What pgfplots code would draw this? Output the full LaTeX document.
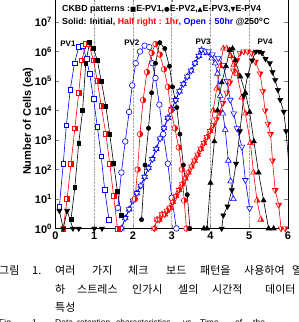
\documentclass[border=0pt]{standalone}
\usepackage{fontspec}
\setmainfont{Liberation Sans}
\newfontfamily\kr{Noto Sans CJK KR}
\newfontfamily\sym{DejaVu Sans}
\usepackage{pgfplots}
\pgfplotsset{compat=1.18}
% half-right filled marks (red)
\pgfdeclareplotmark{hsq}{%
 \pgfpathrectangle{\pgfqpoint{-\pgfplotmarksize}{-\pgfplotmarksize}}{\pgfqpoint{2\pgfplotmarksize}{2\pgfplotmarksize}}%
 \pgfsetfillcolor{white}\pgfusepathqfill
 \pgfpathrectangle{\pgfqpoint{0pt}{-\pgfplotmarksize}}{\pgfqpoint{\pgfplotmarksize}{2\pgfplotmarksize}}%
 \pgfsetfillcolor{red}\pgfusepathqfill
 \pgfpathrectangle{\pgfqpoint{-\pgfplotmarksize}{-\pgfplotmarksize}}{\pgfqpoint{2\pgfplotmarksize}{2\pgfplotmarksize}}%
 \pgfusepathqstroke}
\pgfdeclareplotmark{hci}{%
 \pgfpathcircle{\pgfpointorigin}{\pgfplotmarksize}%
 \pgfsetfillcolor{white}\pgfusepathqfill
 \pgfpathmoveto{\pgfqpoint{0pt}{-\pgfplotmarksize}}\pgfpatharc{-90}{90}{\pgfplotmarksize}\pgfpathclose
 \pgfsetfillcolor{red}\pgfusepathqfill
 \pgfpathcircle{\pgfpointorigin}{\pgfplotmarksize}\pgfusepathqstroke}
\pgfdeclareplotmark{htu}{%
 \pgfpathmoveto{\pgfqpointpolar{90}{\pgfplotmarksize}}\pgfpathlineto{\pgfqpointpolar{-30}{\pgfplotmarksize}}\pgfpathlineto{\pgfqpointpolar{210}{\pgfplotmarksize}}\pgfpathclose
 \pgfsetfillcolor{white}\pgfusepathqfill
 \pgfpathmoveto{\pgfqpointpolar{90}{\pgfplotmarksize}}\pgfpathlineto{\pgfqpointpolar{-30}{\pgfplotmarksize}}\pgfpathlineto{\pgfqpoint{0pt}{-0.5\pgfplotmarksize}}\pgfpathclose
 \pgfsetfillcolor{red}\pgfusepathqfill
 \pgfpathmoveto{\pgfqpointpolar{90}{\pgfplotmarksize}}\pgfpathlineto{\pgfqpointpolar{-30}{\pgfplotmarksize}}\pgfpathlineto{\pgfqpointpolar{210}{\pgfplotmarksize}}\pgfpathclose
 \pgfusepathqstroke}
\pgfdeclareplotmark{htd}{%
 \pgfpathmoveto{\pgfqpointpolar{-90}{\pgfplotmarksize}}\pgfpathlineto{\pgfqpointpolar{30}{\pgfplotmarksize}}\pgfpathlineto{\pgfqpointpolar{150}{\pgfplotmarksize}}\pgfpathclose
 \pgfsetfillcolor{white}\pgfusepathqfill
 \pgfpathmoveto{\pgfqpointpolar{-90}{\pgfplotmarksize}}\pgfpathlineto{\pgfqpointpolar{30}{\pgfplotmarksize}}\pgfpathlineto{\pgfqpoint{0pt}{0.5\pgfplotmarksize}}\pgfpathclose
 \pgfsetfillcolor{red}\pgfusepathqfill
 \pgfpathmoveto{\pgfqpointpolar{-90}{\pgfplotmarksize}}\pgfpathlineto{\pgfqpointpolar{30}{\pgfplotmarksize}}\pgfpathlineto{\pgfqpointpolar{150}{\pgfplotmarksize}}\pgfpathclose
 \pgfusepathqstroke}
\begin{document}
\begin{tikzpicture}[x=1pt,y=1pt]
\useasboundingbox (0,0) rectangle (299,322);
\begin{axis}[at={(55.5pt,93.5pt)}, anchor=south west, scale only axis,
 width=232.5pt, height=230.1pt,
 xmin=0, xmax=6, ymode=log, ymin=1, ymax=6.31e7,
 xtick={0,1,2,3,4,5,6}, xticklabels={0,1,2,3,4,5,6},
 ytick={1,10,100,1000,1e4,1e5,1e6,1e7},
 yticklabels={10\textsuperscript{0},10\textsuperscript{1},10\textsuperscript{2},10\textsuperscript{3},10\textsuperscript{4},10\textsuperscript{5},10\textsuperscript{6},10\textsuperscript{7}},
 tick label style={font=\bfseries\fontsize{11}{13}\selectfont},
 tick align=inside, yminorticks=false, xminorticks=false,
 major tick length=4pt,
 xmajorgrids, major grid style={gray!70, densely dotted, line width=0.5pt},
 axis line style={line width=0.8pt},
 ylabel={Number of Cells (ea)},
 ylabel style={font=\bfseries\fontsize{11}{13}\selectfont, at={(axis description cs:-0.118,0.465)}, anchor=center},
 every axis plot/.append style={line width=0.6pt},
]
% ---------- blue : open, 50hr ----------
\addplot[color=blue, mark=square*, mark size=2.4pt, mark options={fill=white}] coordinates {
(0.10,5.6)(0.20,158)(0.28,3.16e3)(0.38,5.0e4)(0.49,4.0e5)(0.60,1.41e6)(0.70,1.58e6)(0.80,5.6e5)(0.88,1.78e5)(0.98,2.51e4)(1.08,2.8e3)(1.18,282)(1.27,20)(1.38,2)};
\addplot[color=blue, mark=*, mark size=2.8pt, mark options={fill=white}] coordinates {
(1.61,5)(1.70,79)(1.80,891)(1.90,8.9e3)(1.98,7.1e4)(2.07,4.0e5)(2.18,1.0e6)(2.30,1.58e6)(2.42,1.41e6)(2.50,4.0e5)(2.58,1.26e5)(2.68,1.58e4)(2.78,1.58e3)(2.90,158)(3.00,11)(3.12,1)};
\addplot[color=blue, mark=triangle*, mark size=3.3pt, mark options={fill=white}] coordinates {
(1.70,1)(1.80,2.24)(1.90,4.47)(2.00,8.9)(2.10,15.8)(2.20,28.2)(2.30,56)(2.40,112)(2.50,224)(2.60,501)(2.70,1.12e3)(2.80,2.51e3)(2.90,5.6e3)(3.00,1.12e4)(3.10,2.24e4)(3.20,4.47e4)(3.30,7.9e4)(3.40,1.41e5)(3.50,2.24e5)(3.60,4.0e5)(3.70,7.1e5)(3.77,1.12e6)
(3.90,8.9e5)(4.03,5.9e5)(4.12,4.0e5)(4.18,1.78e5)(4.25,3.16e4)(4.32,7.9e3)(4.38,2.24e3)(4.46,200)(4.52,40)(4.59,10)};
\addplot[color=blue, mark=triangle*, mark size=3.3pt, mark options={fill=white, rotate=180}] coordinates {
(1.70,1)(1.80,2.24)(1.90,4.47)(2.00,8.9)(2.10,15.8)(2.20,28.2)(2.30,56)(2.40,112)(2.50,224)(2.60,501)(2.70,1.12e3)(2.80,2.51e3)(2.90,5.6e3)(3.00,1.12e4)(3.10,2.24e4)(3.20,4.47e4)(3.30,7.9e4)(3.40,1.41e5)(3.50,2.24e5)(3.60,4.0e5)(3.70,7.1e5)(3.77,1.12e6)
(3.87,1e6)(3.95,1e6)(4.05,7.9e5)(4.20,5.9e5)(4.33,3.47e5)(4.42,1e5)(4.51,2.29e4)(4.60,7.9e3)(4.68,2.51e3)(4.81,589)(4.90,43.7)(5.01,4.8)};
% ---------- red : half right, 1hr ----------
\addplot[color=red, mark=hsq, mark size=2.4pt] coordinates {
(0.20,1)(0.30,10)(0.40,158)(0.50,2.51e3)(0.60,3.98e4)(0.68,5.0e5)(0.78,1.78e6)(0.86,1.78e6)(0.98,5.0e5)(1.08,1.0e5)(1.18,1.41e4)(1.30,1.58e3)(1.40,158)(1.50,12.6)(1.60,1)};
\addplot[color=red, mark=hci, mark size=2.8pt] coordinates {
(2.05,10)(2.12,100)(2.18,1.58e3)(2.26,2.24e4)(2.36,2.0e5)(2.48,8.9e5)(2.58,1.78e6)(2.69,7.9e5)(2.80,2.51e5)(2.90,6.3e4)(2.98,1.0e4)(3.08,2.51e3)(3.18,562)(3.26,100)(3.32,8.9)(3.38,1)};
\addplot[color=red, mark=htu, mark size=3.3pt] coordinates {
(2.55,1)(2.62,2)(2.68,2)(2.75,3)(2.82,3)(2.88,4)(2.95,5)(3.03,7.9)(3.11,12.6)(3.19,20)(3.27,31.6)(3.35,50)(3.43,79)(3.51,126)(3.59,200)(3.67,316)(3.75,501)(3.83,794)(3.91,1259)(3.99,1995)
(4.07,1.0e4)(4.16,5.6e4)(4.25,3.16e5)(4.33,1.26e6)(4.42,1.26e6)(4.52,7.1e5)(4.60,3.55e5)(4.68,1.78e5)(4.81,2.8e4)(4.90,7.9e3)(5.03,794)(5.11,79)(5.20,8.9)(5.30,2)};
\addplot[color=red, mark=htd, mark size=3.3pt] coordinates {
(2.55,1)(2.62,2)(2.68,2)(2.75,3)(2.82,3)(2.88,4)(2.95,5)(3.03,7.9)(3.11,12.6)(3.19,20)(3.27,31.6)(3.35,50)(3.43,79)(3.51,126)(3.59,200)(3.67,316)(3.75,501)(3.83,794)(3.91,1259)(3.99,1995)
(4.07,3.16e3)(4.15,5.0e3)(4.23,8.9e3)(4.32,1.78e4)(4.42,3.98e4)(4.50,8.9e4)(4.59,2.24e5)(4.68,5.0e5)(4.76,8.9e5)(4.86,1.0e6)(4.96,1.0e6)(5.06,8.9e5)(5.16,4.47e5)(5.28,1.78e5)(5.35,4.47e4)(5.41,1.0e4)(5.48,3.55e3)(5.55,1.58e3)(5.60,200)(5.67,20)(5.76,6.3)(5.82,1)(5.93,1)};
% ---------- black : solid, initial ----------
\addplot[color=black, mark=square*, mark size=1.9pt, mark options={fill=black}] coordinates {
(0.40,2)(0.50,25)(0.60,794)(0.70,1.0e4)(0.78,4.0e5)(0.88,2.0e6)(0.98,1.26e6)(1.08,5.0e5)(1.18,1.0e5)(1.30,1.41e4)(1.40,1.58e3)(1.50,158)(1.60,17.8)(1.70,2.8)};
\addplot[color=black, mark=*, mark size=2.1pt, mark options={fill=black}] coordinates {
(2.22,2)(2.31,141)(2.40,2.51e3)(2.48,3.98e4)(2.58,4.0e5)(2.69,2.0e6)(2.82,1.26e6)(2.94,3.16e5)(3.02,6.3e4)(3.13,1.26e4)(3.21,1.58e3)(3.30,141)(3.40,14)(3.47,1)};
\addplot[color=black, mark=triangle*, mark size=2.9pt, mark options={fill=black}] coordinates {
(3.83,1)(3.91,1)(4.00,35)(4.10,891)(4.18,1.0e4)(4.29,8.9e4)(4.40,3.16e5)(4.50,1.12e6)(4.57,1.26e6)(4.64,5.0e5)(4.77,1.41e5)(4.90,3.98e4)(5.01,8.9e3)(5.12,891)(5.24,79)(5.37,8.9)(5.50,1)(5.63,1)};
\addplot[color=black, mark=triangle*, mark size=2.9pt, mark options={fill=black, rotate=180}] coordinates {
(0.10,4)(0.20,1)(0.30,4)(0.45,1)(0.60,1)(1.00,1)(1.20,1)(4.29,1)(4.33,2.8)(4.44,5.6)(4.55,20)(4.66,158)(4.76,2.0e3)(4.86,3.16e4)(4.96,1.58e5)(5.07,5.0e5)(5.17,1.0e6)(5.25,1.0e6)(5.33,8.9e5)(5.42,5.6e5)(5.53,4.0e5)(5.60,2.0e5)(5.67,1.07e5)(5.74,5.0e4)(5.80,2.29e4)(5.89,9.1e3)(5.95,2.0e3)(6.02,158)};
% labels
\node[font=\bfseries\fontsize{8}{9}\selectfont] at (axis cs:0.32,1.9e6) {PV1};
\node[font=\bfseries\fontsize{8}{9}\selectfont] at (axis cs:1.97,2.0e6) {PV2};
\node[font=\bfseries\fontsize{8}{9}\selectfont] at (axis cs:3.81,2.1e6) {PV3};
\node[font=\bfseries\fontsize{8}{9}\selectfont] at (axis cs:5.41,2.1e6) {PV4};
\end{axis}
% legend text
\node[anchor=base west, inner sep=0, font=\bfseries\fontsize{8.8}{10}\selectfont] at (62,310.5)
 {CKBD patterns :{\sym\fontsize{6.5}{7}\selectfont ■}E-PV1,{\sym\fontsize{6.5}{7}\selectfont ●}E-PV2,{\sym\fontsize{6.5}{7}\selectfont ▲}E-PV3,{\sym\fontsize{6.5}{7}\selectfont ▼}E-PV4};
\node[anchor=base west, inner sep=0, font=\bfseries\fontsize{8.8}{10}\selectfont] at (62,297)
 {Solid: Initial, \textcolor{red}{Half right : 1hr}\textcolor{blue}{, Open : 50hr} @250\textsuperscript{o}C};
% caption
\begin{scope}[every node/.style={anchor=base west, inner sep=0, font=\kr\fontsize{11}{13}\selectfont}]
\node at (-1,47) {그림};
\node at (32,47) {1.};
\node at (55,47) {여러}; \node at (92,47) {가지}; \node at (128,47) {체크}; \node at (166,47) {보드};
\node at (200,47) {패턴을}; \node at (244,47) {사용하여}; \node at (292,47) {열};
\node at (55,28) {하}; \node at (77,28) {스트레스}; \node at (132,28) {인가시}; \node at (178,28) {셀의};
\node at (212,28) {시간적}; \node at (265,28) {데이터};
\node at (55,10) {특성};
\end{scope}
\begin{scope}[every node/.style={anchor=base west, inner sep=0, font=\fontsize{8.5}{10}\selectfont}]
\node at (-1,-3) {Fig.}; \node at (32,-3) {1.};
\node at (55,-3) {Data}; \node at (77,-3) {retention}; \node at (116,-3) {characteristics};
\node at (183,-3) {vs}; \node at (200,-3) {Time}; \node at (235,-3) {of}; \node at (253,-3) {the};
\end{scope}
\end{tikzpicture}
\end{document}
